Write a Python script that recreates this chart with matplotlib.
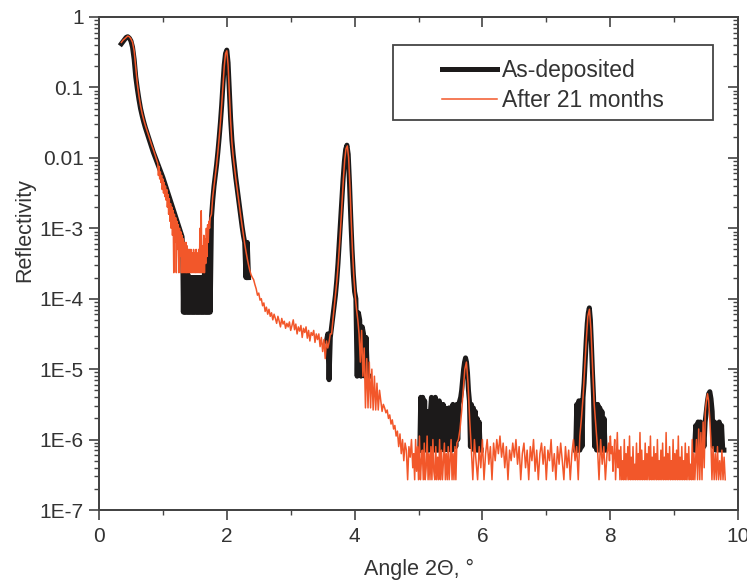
import numpy as np
import matplotlib.pyplot as plt
from matplotlib.ticker import MultipleLocator, LogLocator, NullFormatter, FixedFormatter
from matplotlib.patches import Rectangle

plt.rcParams['font.family'] = ['Liberation Sans', 'DejaVu Sans']

# X-ray reflectivity scans, values as log10(R)
# each stretch: (first angle, last angle), values on an even angle step

# --- After 21 months
aft_decay_span = (0.35, 0.90)
aft_decay = [-0.36, -0.33, -0.31, -0.29, -0.27, -0.28, -0.31, -0.36, -0.48, -0.72,
             -0.95, -1.12, -1.26, -1.37, -1.46, -1.54, -1.61, -1.68, -1.75, -1.82,
             -1.88, -1.95, -2.02]
aft_stair_span = (0.92, 1.30)
aft_stair = [-2.08, -2.25, -2.12, -2.3, -2.2, -2.35, -2.25, -2.45, -2.3, -2.5,
             -2.35, -2.55, -2.4, -2.6, -2.45, -2.7, -2.52, -2.8, -2.58, -2.9,
             -2.65, -3.0, -2.7, -3.1, -2.75, -3.63, -2.8, -3.2, -2.85, -3.63,
             -2.9, -3.3, -2.95, -3.63, -3.0, -3.4, -3.05, -3.63, -3.1]
aft_block1_span = (1.31, 1.74)
aft_block1 = [-3.63, -3.15, -3.63, -3.2, -3.63, -3.2, -3.63, -3.25, -3.63, -3.3,
              -3.63, -3.3, -3.63, -3.3, -3.63, -3.35, -3.63, -3.3, -3.63, -3.35,
              -3.63, -3.3, -3.63, -3.35, -3.63, -3.3, -3.63, -3.0, -3.63, -2.75,
              -3.63, -3.25, -3.63, -3.1, -3.63, -3.15, -3.5, -3.0, -3.4, -2.95,
              -3.2, -2.9, -3.0, -2.85]
aft_peak1_span = (1.76, 2.40)
aft_peak1 = [-2.8, -2.55, -2.4, -2.25, -2.1, -1.92, -1.72, -1.5, -1.25, -0.97,
             -0.7, -0.52, -0.48, -0.68, -1.08, -1.48, -1.78, -1.98, -2.14, -2.29,
             -2.43, -2.57, -2.7, -2.84, -2.97, -3.1, -3.22, -3.33, -3.43, -3.52,
             -3.6, -3.66, -3.7]
aft_tail_span = (2.42, 3.62)
aft_tail = [-3.73, -3.80, -3.86, -3.95, -3.92, -4.02, -4.0, -4.10, -4.06, -4.18,
            -4.12, -4.22, -4.15, -4.25, -4.2, -4.3, -4.22, -4.28, -4.35, -4.25,
            -4.32, -4.4, -4.28, -4.36, -4.32, -4.42, -4.35, -4.4, -4.33, -4.45,
            -4.38, -4.3, -4.44, -4.36, -4.5, -4.4, -4.46, -4.38, -4.55, -4.42,
            -4.48, -4.4, -4.56, -4.45, -4.6, -4.48, -4.52, -4.45, -4.62, -4.5,
            -4.58, -4.5, -4.68, -4.55, -4.75, -4.58, -4.85, -4.6, -4.7, -4.62, -4.5]
aft_peak2_span = (3.64, 4.05)
aft_peak2 = [-4.5, -4.3, -4.12, -3.95, -3.75, -3.52, -3.25, -2.95, -2.62, -2.3,
             -2.03, -1.87, -1.83, -2.0, -2.4, -2.9, -3.35, -3.7, -3.95, -4.15, -4.3]
aft_block2_span = (4.07, 4.45)
aft_block2 = [-4.5, -4.9, -4.45, -5.1, -4.7, -5.55, -4.85, -5.55, -4.9, -5.55,
              -5.0, -5.58, -5.1, -5.58, -5.2, -5.58, -5.3, -5.45, -5.6, -5.5]
aft_drop_span = (4.47, 4.91)
aft_drop = [-5.55, -5.62, -5.58, -5.7, -5.65, -5.78, -5.72, -5.85, -5.8, -5.95,
            -5.88, -6.1, -5.92, -6.2, -6.0, -6.3, -6.05, -6.15, -6.57, -6.1,
            -6.25, -6.0, -6.4]
aft_noise1_span = (4.925, 5.60)
aft_noise1 = [-6.2, -6.57, -6.0, -6.45, -6.1, -6.57, -5.95, -6.57, -6.3, -6.15,
              -6.57, -6.05, -6.57, -6.4, -5.95, -6.57, -6.2, -6.57, -6.1, -6.57,
              -6.0, -6.45, -6.57, -6.1, -6.57, -6.25, -6.57, -6.0, -6.57, -6.15,
              -6.57, -6.3, -6.05, -6.57, -6.2, -6.57, -6.1, -6.57, -6.3, -6.0,
              -6.57, -6.2, -6.57, -6.1, -6.57, -6.05]
aft_peak3_span = (5.625, 5.90)
aft_peak3 = [-6.0, -5.85, -5.6, -5.3, -5.0, -4.9, -5.2, -5.7, -6.1, -6.57, -6.0, -6.3]
aft_noise2_span = (5.925, 7.45)
aft_noise2 = [-6.57, -6.1, -6.4, -6.0, -6.57, -6.2, -6.0, -6.35, -6.1, -6.57,
              -6.05, -6.3, -6.0, -6.2, -5.95, -6.25, -6.05, -6.4, -6.1, -6.57,
              -6.15, -6.3, -6.05, -6.25, -6.0, -6.35, -6.1, -6.57, -6.2, -6.05,
              -6.4, -6.15, -6.57, -6.1, -6.3, -6.0, -6.45, -6.15, -6.57, -6.2,
              -6.05, -6.35, -6.1, -6.57, -6.15, -6.3, -6.0, -6.45, -6.2, -6.57,
              -6.1, -6.35, -6.05, -6.3, -6.57, -6.1, -6.4, -6.15, -6.57, -6.2,
              -6.0, -6.3]
aft_peak4_span = (7.475, 7.95)
aft_peak4 = [-6.1, -6.57, -5.95, -5.7, -5.4, -5.0, -4.6, -4.25, -4.15, -4.45,
             -5.0, -5.5, -5.8, -6.1, -6.57, -6.0, -6.35, -6.1, -6.57, -6.2]
aft_noise3_span = (7.975, 9.325)
aft_noise3 = [-6.05, -6.3, -5.95, -6.2, -6.1, -6.45, -6.2, -6.0, -6.57, -6.25,
              -5.9, -6.4, -6.15, -6.57, -6.1, -6.57, -6.3, -6.57, -6.0, -6.57,
              -6.2, -6.57, -6.1, -6.57, -5.95, -6.57, -6.25, -6.57, -6.1, -6.57,
              -6.35, -6.57, -6.05, -6.57, -6.2, -6.57, -5.9, -6.57, -6.15, -6.57,
              -6.3, -6.57, -6.05, -6.57, -6.2, -6.57, -6.1, -6.57, -5.95, -6.57,
              -6.25, -6.57, -6.1, -6.57, -6.2, -6.57, -6.0, -6.57, -6.3, -6.57,
              -6.15, -6.57, -6.05, -6.57, -6.25, -6.57, -5.9, -6.57, -6.2, -6.57,
              -6.1, -6.57, -6.3, -6.57, -6.0, -6.57, -6.2, -6.57, -6.15, -6.57,
              -5.95, -6.57, -6.25, -6.57, -6.1, -6.57, -6.3, -6.57, -6.05, -6.57,
              -6.2, -6.57, -6.1, -6.57, -6.35, -6.57, -6.0, -6.57, -6.2, -6.57]
aft_peak5_span = (9.35, 9.80)
aft_peak5 = [-6.0, -6.57, -5.85, -6.57, -5.9, -6.57, -5.75, -6.4, -5.6, -5.45,
             -5.35, -5.45, -5.7, -6.0, -6.57, -6.1, -6.57, -6.2, -6.57, -6.1,
             -6.57, -6.3, -6.57, -6.15, -6.57, -6.25, -6.57]

# --- As-deposited (only the visible stretches)
dep_decay_span = (0.35, 1.30)
dep_decay = [-0.38, -0.35, -0.32, -0.29, -0.28, -0.30, -0.34, -0.43, -0.60, -0.85,
             -1.02, -1.17, -1.30, -1.40, -1.49, -1.57, -1.64, -1.71, -1.78, -1.85,
             -1.92, -1.98, -2.04, -2.10, -2.16, -2.22, -2.28, -2.35, -2.42, -2.49,
             -2.56, -2.63, -2.70, -2.77, -2.84, -2.91, -2.98, -3.05, -3.12]
dep_valley_span = (1.31, 1.74)
dep_valley = [-3.3, -4.19, -3.4, -4.19, -3.5, -4.19, -3.6, -4.19, -3.65, -4.19,
              -3.7, -4.19, -3.7, -4.19, -3.7, -4.19, -3.7, -4.19, -3.7, -4.19,
              -3.7, -4.19, -3.7, -4.19, -3.7, -4.19, -3.7, -4.19, -3.7, -4.19,
              -3.7, -4.19, -3.7, -4.19, -3.6, -4.19, -3.5, -4.19, -3.4, -4.19,
              -3.2, -4.19, -3.0, -4.19]
dep_peak1_span = (1.76, 2.34)
dep_peak1 = [-2.85, -2.6, -2.4, -2.25, -2.1, -1.92, -1.72, -1.5, -1.25, -0.95,
             -0.68, -0.52, -0.47, -0.65, -1.05, -1.45, -1.75, -1.95, -2.12, -2.28,
             -2.42, -2.56, -2.7, -2.85, -2.98, -3.1, -3.2, -3.7, -3.2, -3.7]
dep_peak2_span = (3.56, 4.22)
dep_peak2 = [-4.6, -4.5, -5.15, -4.55, -4.4, -4.25, -4.1, -3.95, -3.75, -3.5,
             -3.2, -2.9, -2.6, -2.3, -2.05, -1.88, -1.82, -1.95, -2.35, -2.85,
             -3.3, -3.65, -3.9, -4.0, -5.1, -4.2, -4.3, -5.1, -4.4, -4.5,
             -5.1, -4.55, -5.1, -5.1]
dep_peak3_span = (5.02, 5.98)
dep_peak3 = [-6.15, -5.4, -6.15, -5.4, -6.15, -5.45, -6.15,
             -5.6, -6.15, -5.6, -6.15, -5.6,
             -5.4, -6.15, -5.45, -6.15, -5.4, -6.15, -5.5, -6.15, -5.45,
             -6.15, -5.55, -6.1, -5.5, -6.15, -5.55, -6.1, -5.6, -6.15, -5.55,
             -6.1, -5.55, -6.15, -5.5, -6.05, -5.55, -6.1, -5.5, -6.0, -5.5,
             -5.45, -5.4, -5.3, -5.15, -5.0, -4.9, -4.84, -4.9, -5.05, -5.3,
             -5.45, -6.1, -5.5, -6.1, -5.55, -6.15, -5.6, -6.15, -5.7, -6.15,
             -5.75, -6.15, -6.15]
dep_peak4_span = (7.46, 7.92)
dep_peak4 = [-6.15, -5.5, -6.15, -5.45, -6.15, -5.45, -6.1, -5.4,
             -5.2, -4.9, -4.6, -4.35, -4.2, -4.13, -4.3, -4.65, -5.05, -5.4,
             -6.1, -5.5, -6.15, -5.5, -6.15, -5.55, -6.15, -5.6, -6.15, -5.7, -6.15]
dep_peak5_span = (9.32, 9.78)
dep_peak5 = [-6.15, -5.8, -6.15, -5.75, -6.15, -5.75, -6.15, -5.8, -6.1, -5.75,
             -5.6, -5.45, -5.35, -5.32, -5.42, -5.6,
             -6.1, -5.75, -6.15, -5.8, -6.15, -5.75, -6.15, -5.8, -6.15, -6.15]

y_tick_labels = ['1E-7', '1E-6', '1E-5', '1E-4', '1E-3', '0.01', '0.1', '1']


def build(parts, gaps=False):
    xs, ys = [], []
    for span, vals in parts:
        xs.append(np.linspace(span[0], span[1], len(vals)))
        ys.append(10.0 ** np.array(vals))
        if gaps:
            xs.append([np.nan])
            ys.append([np.nan])
    return np.concatenate(xs), np.concatenate(ys)


x_aft, y_aft = build([(aft_decay_span, aft_decay), (aft_stair_span, aft_stair),
                      (aft_block1_span, aft_block1), (aft_peak1_span, aft_peak1),
                      (aft_tail_span, aft_tail), (aft_peak2_span, aft_peak2),
                      (aft_block2_span, aft_block2), (aft_drop_span, aft_drop),
                      (aft_noise1_span, aft_noise1), (aft_peak3_span, aft_peak3),
                      (aft_noise2_span, aft_noise2), (aft_peak4_span, aft_peak4),
                      (aft_noise3_span, aft_noise3), (aft_peak5_span, aft_peak5)])
x_dep1, y_dep1 = build([(dep_decay_span, dep_decay), (dep_valley_span, dep_valley),
                        (dep_peak1_span, dep_peak1)])
x_dep2, y_dep2 = build([(dep_peak2_span, dep_peak2), (dep_peak3_span, dep_peak3),
                        (dep_peak4_span, dep_peak4), (dep_peak5_span, dep_peak5)], gaps=True)
x_dep = np.concatenate([x_dep1, [np.nan], x_dep2])
y_dep = np.concatenate([y_dep1, [np.nan], y_dep2])

black = '#1c1a1a'
orange = '#f2572a'
axis_col = '#444444'
text_col = '#333333'

fig = plt.figure(figsize=(7.47, 5.82), dpi=100)
ax = fig.add_axes([99 / 747, 1 - 510 / 582, 639 / 747, 493 / 582])

ax.plot(x_dep, y_dep, color=black, lw=3.6, solid_joinstyle='round', zorder=2, label='As-deposited')
ax.plot(x_aft, y_aft, color=orange, lw=1.1, zorder=3, label='After 21 months')

ax.set_yscale('log')
ax.set_xlim(0, 10)
ax.set_ylim(1e-7, 1)
ax.set_xticks([0, 2, 4, 6, 8, 10])
ax.xaxis.set_minor_locator(MultipleLocator(1))
ax.set_yticks([1e-7, 1e-6, 1e-5, 1e-4, 1e-3, 1e-2, 1e-1, 1])
ax.yaxis.set_major_formatter(FixedFormatter(y_tick_labels))
ax.yaxis.set_minor_locator(LogLocator(base=10, subs=np.arange(2, 10)))
ax.yaxis.set_minor_formatter(NullFormatter())
ax.tick_params(which='major', direction='out', length=7, width=1.2, color=axis_col,
               labelsize=15, labelcolor=text_col)
ax.tick_params(axis='x', which='major', pad=5.5)
ax.tick_params(axis='y', which='major', pad=4)
ax.tick_params(which='minor', direction='out', length=3.6, width=1.0, color=axis_col)
for s in ax.spines.values():
    s.set_color(axis_col)
    s.set_linewidth(1.3)

# mirrored axes: ticks point inward on top and right
axt = ax.twiny()
axt.set_xlim(0, 10)
axt.set_xticks([0, 2, 4, 6, 8, 10])
axt.xaxis.set_minor_locator(MultipleLocator(1))
axt.tick_params(which='major', direction='in', length=7, width=1.2, color=axis_col, labeltop=False)
axt.tick_params(which='minor', direction='in', length=3.6, width=1.0, color=axis_col)
axr = ax.twinx()
axr.set_yscale('log')
axr.set_ylim(1e-7, 1)
axr.set_yticks([1e-7, 1e-6, 1e-5, 1e-4, 1e-3, 1e-2, 1e-1, 1])
axr.yaxis.set_minor_locator(LogLocator(base=10, subs=np.arange(2, 10)))
axr.tick_params(which='major', direction='in', length=7, width=1.2, color=axis_col, labelright=False)
axr.tick_params(which='minor', direction='in', length=3.6, width=1.0, color=axis_col, labelright=False)
for a in (axt, axr):
    for s in a.spines.values():
        s.set_color(axis_col)
        s.set_linewidth(1.3)

ax.set_xlabel('Angle 2\u0398, \u00b0', fontsize=15.5, color=text_col)
ax.set_ylabel('Reflectivity', fontsize=15.5, color=text_col)
ax.xaxis.set_label_coords(0.5, -0.1)
ax.yaxis.set_label_coords(-0.1, 0.568)

# legend frame and entries
ax.add_patch(Rectangle((0.460, 0.791), 0.501, 0.152, transform=ax.transAxes,
                       fill=False, edgecolor=axis_col, lw=1.3, zorder=5))
h1, l1 = ax.get_legend_handles_labels()
leg = axr.legend(h1, l1, loc='upper left', bbox_to_anchor=(0.537, 0.914), frameon=False,
                 fontsize=16.5, borderpad=0, borderaxespad=0, handlelength=2.4,
                 handletextpad=0.22, labelspacing=0.3, bbox_transform=ax.transAxes)
for t in leg.get_texts():
    t.set_color(text_col)

fig.savefig('out.png', dpi=100)
